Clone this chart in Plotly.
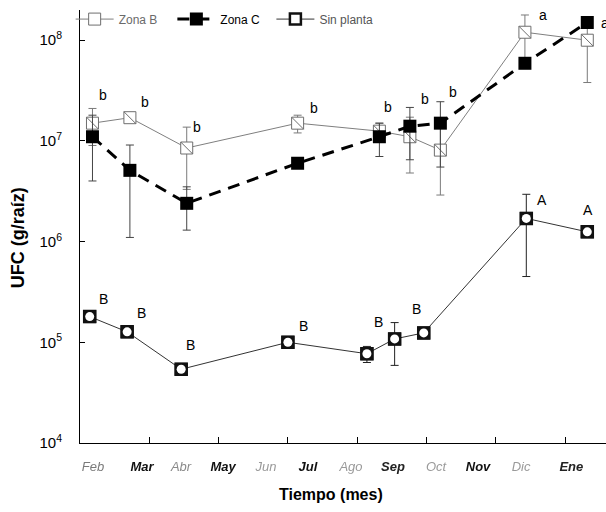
import plotly.graph_objects as go

# Sampling day (days from the start of the series)
dias_zona = [9, 36, 77, 157, 216, 238, 260, 321, 366]
dias_sin = [7, 34, 73, 150, 207, 227, 248, 322, 366]

# CFU per gram of root and their errors
zona_b = [1.5e7, 1.7e7, 8.5e6, 1.5e7, 1.25e7, 1.1e7, 8.1e6, 1.2e8, 1.0e8]
err_b = [6e6, 0, 5.2e6, 3e6, 2.5e6, 6.2e6, 5.2e6, 5.8e7, 6.2e7]

zona_c = [1.1e7, 5.1e6, 2.4e6, 6.0e6, 1.1e7, 1.4e7, 1.5e7, 5.9e7, 1.5e8]
err_c = [7e6, 4e6, 1.1e6, 0, 4e6, 7.5e6, 9.5e6, 0, 0]

sin_planta = [1.8e5, 1.27e5, 5.4e4, 1.0e5, 7.7e4, 1.08e5, 1.24e5, 1.7e6, 1.25e6]
err_sin = [0, 0, 0, 0, 1.4e4, 4.9e4, 0, 1.25e6, 0]

# Month labels under the time axis
meses = ["Feb", "Mar", "Abr", "May", "Jun", "Jul", "Ago", "Sep", "Oct", "Nov", "Dic", "Ene"]
meses_pos = [9.4, 44.7, 72.9, 103.2, 134.2, 164.5, 195.5, 225.8, 256.9, 287.2, 318.2, 354.5]
meses_negrita = [False, True, False, True, False, True, False, True, False, True, False, True]
meses_color = ["#7a7a7a", "#111", "#8a8a8a", "#111", "#9a9a9a", "#111",
               "#9a9a9a", "#222", "#9a9a9a", "#111", "#9a9a9a", "#222"]

# Significance letters (text, day, log10 of height)
letras = ["b", "b", "b", "b", "b", "b", "b", "a", "a",
          "B", "B", "B", "B", "B", "B", "A", "A"]
letras_x = [16.6, 46.9, 84.4, 168.8, 222.2, 248.9, 269.1, 334.1, 379.0,
            16.6, 44.7, 79.4, 160.9, 215.7, 243.1, 333.3, 366.5]
letras_y = [7.454, 7.385, 7.137, 7.325, 7.335, 7.415, 7.484, 8.248, 8.169,
            5.431, 5.292, 4.974, 5.163, 5.202, 5.331, 6.413, 6.313]

y_ticks = [1e4, 1e5, 1e6, 1e7, 1e8]
y_ticktext = ["10<sup>4</sup>", "10<sup>5</sup>", "10<sup>6</sup>", "10<sup>7</sup>", "10<sup>8</sup>"]

FONT = "Liberation Sans, Arial, sans-serif"
NB = "\u00a0"

fig = go.Figure()

# Zona B: open grey squares with a diagonal stroke
fig.add_trace(go.Scatter(
    x=dias_zona, y=zona_b, mode="lines+markers",
    name="<span style='color:#6a6a6a'>Zona B</span>" + NB * 3,
    line=dict(color="#7f7f7f", width=1),
    marker=dict(symbol="square", size=12, color="white",
                line=dict(color="#6e6e6e", width=1)),
    error_y=dict(type="data", array=err_b, color="#7a7a7a", thickness=1, width=4),
))
fig.add_trace(go.Scatter(
    x=dias_zona, y=zona_b, mode="markers", showlegend=False, hoverinfo="skip",
    marker=dict(symbol="line-nw", size=12, color="#6e6e6e",
                line=dict(color="#6e6e6e", width=1)),
))

# Zona C: filled black squares on a heavy dashed line
fig.add_trace(go.Scatter(
    x=dias_zona, y=zona_c, mode="lines+markers",
    name="<span style='color:#000'>Zona C</span>" + NB * 2,
    line=dict(color="black", width=3, dash="12px,8px"),
    marker=dict(symbol="square", size=13, color="black",
                line=dict(color="black", width=0)),
    error_y=dict(type="data", array=err_c, color="#444", thickness=1, width=4),
))

# Sin planta: black squares with a white round centre
fig.add_trace(go.Scatter(
    x=dias_sin, y=sin_planta, mode="lines+markers",
    name="<span style='color:#555'>Sin planta</span>",
    line=dict(color="#333", width=1),
    marker=dict(symbol="square", size=11, color="white",
                line=dict(color="#111", width=2.5)),
    error_y=dict(type="data", array=err_sin, color="#222", thickness=1, width=4),
))
fig.add_trace(go.Scatter(
    x=dias_sin, y=sin_planta, mode="markers", showlegend=False, hoverinfo="skip",
    marker=dict(symbol="square", size=13, color="#111", line=dict(width=0)),
))
fig.add_trace(go.Scatter(
    x=dias_sin, y=sin_planta, mode="markers", showlegend=False, hoverinfo="skip",
    marker=dict(symbol="circle", size=9, color="white", line=dict(width=0)),
))

# Carrier trace so the month axis is drawn
fig.add_trace(go.Scatter(
    x=meses_pos, y=[None] * len(meses_pos), xaxis="x2", yaxis="y",
    mode="markers", showlegend=False, hoverinfo="skip",
))

for t, lx, ly in zip(letras, letras_x, letras_y):
    fig.add_annotation(x=lx, y=ly, text=t, showarrow=False, xref="x", yref="y",
                       font=dict(family=FONT, size=14, color="black"))

# Axis titles
fig.add_annotation(x=0.477, y=-0.12, xref="paper", yref="paper", showarrow=False,
                   text="<b>Tiempo (mes)</b>", xanchor="center", yanchor="middle",
                   font=dict(family=FONT, size=16, color="black"))
fig.add_annotation(x=(18 - 80) / 526, y=0.473, xref="paper", yref="paper", showarrow=False,
                   text="<b>UFC (g/raíz)</b>", textangle=-90,
                   xanchor="center", yanchor="middle",
                   font=dict(family=FONT, size=18, color="black"))

ticktext_meses = []
for m, b, c in zip(meses, meses_negrita, meses_color):
    s = f"<i>{m}</i>"
    if b:
        s = f"<b>{s}</b>"
    ticktext_meses.append(f"<span style='color:{c}'>{s}</span>")

fig.update_layout(
    width=606, height=512,
    margin=dict(l=80, r=0, t=10, b=69),
    paper_bgcolor="white", plot_bgcolor="white",
    font=dict(family=FONT, color="black"),
    showlegend=True,
    legend=dict(orientation="h", x=0.275, xanchor="center", y=0.979, yanchor="middle",
                bgcolor="rgba(0,0,0,0)", font=dict(family=FONT, size=12),
                itemwidth=38, tracegroupgap=0),
    xaxis=dict(range=[0, 379.5], tickvals=[0, 50, 100, 150, 200, 250, 300, 350],
               showticklabels=False, ticks="inside", ticklen=6, tickcolor="black",
               showline=True, linecolor="black", linewidth=1,
               showgrid=False, zeroline=False),
    xaxis2=dict(range=[0, 379.5], overlaying="x", anchor="y", side="bottom",
                tickvals=meses_pos, ticktext=ticktext_meses, ticks="",
                tickfont=dict(family=FONT, size=13), ticklabelstandoff=14,
                showline=False, showgrid=False, zeroline=False),
    yaxis=dict(type="log", range=[4, 8.3], tickvals=y_ticks, ticktext=y_ticktext,
               ticks="inside", ticklen=5, tickcolor="black",
               tickfont=dict(family=FONT, size=15, color="black"), ticklabelstandoff=14,
               showline=True, linecolor="black", linewidth=1,
               showgrid=False, zeroline=False),
)

# Soften the month labels slightly
soften = """
document.querySelectorAll('.x2tick text').forEach(function(t){
    t.style.filter = 'blur(0.5px)';
});
"""

fig.write_html("out.html", post_script=soften)
